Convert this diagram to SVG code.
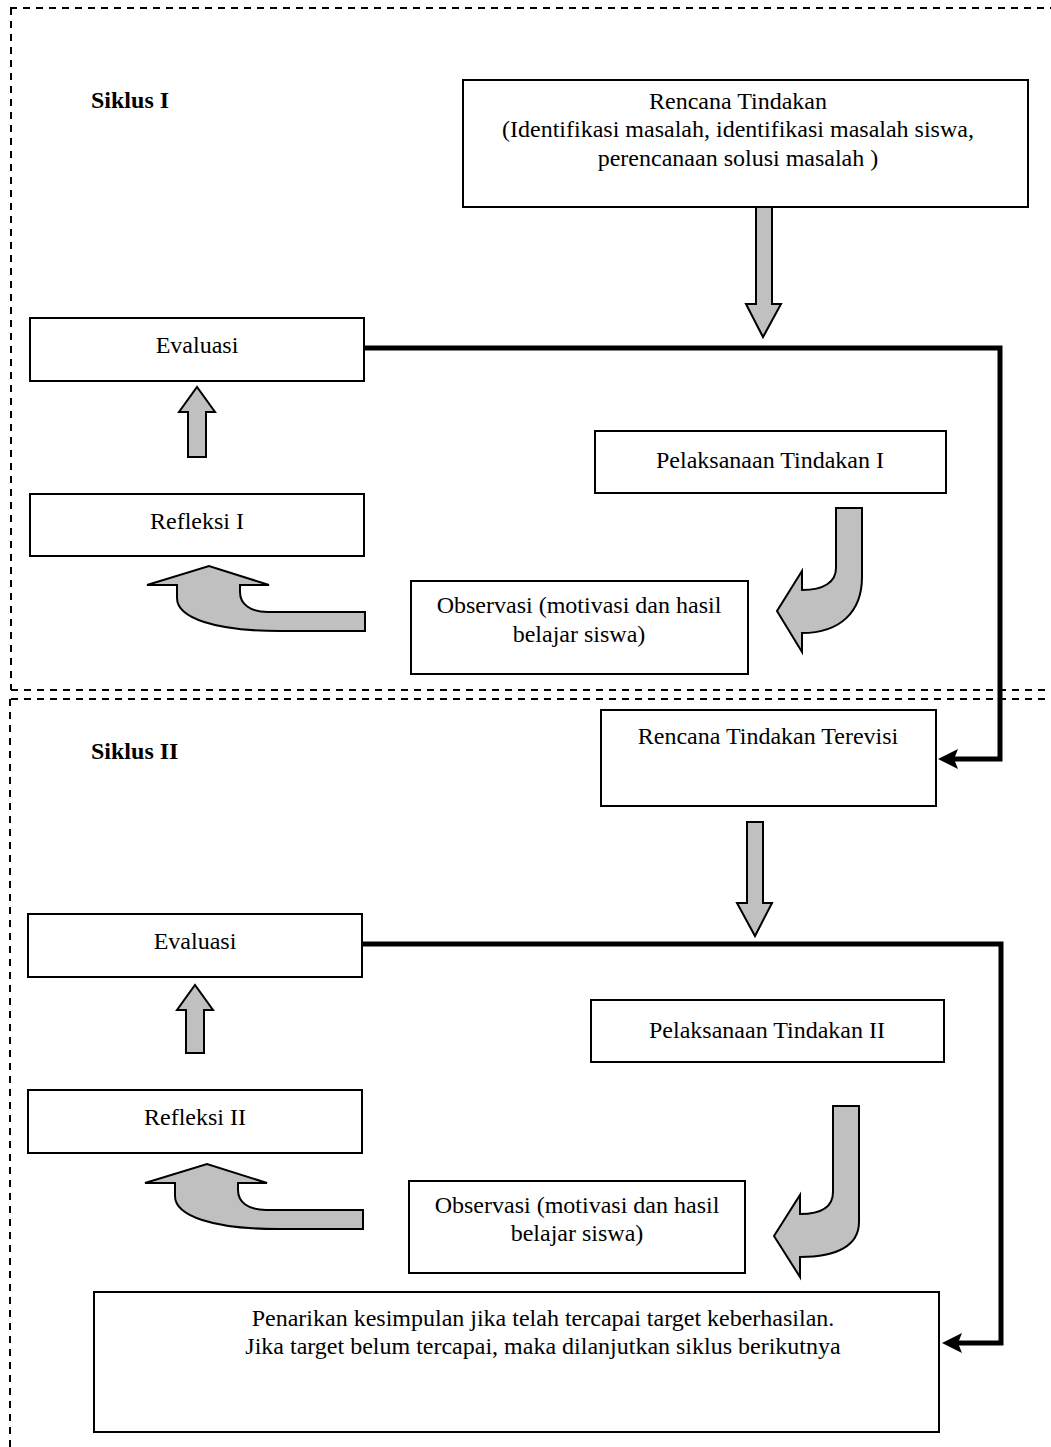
<svg xmlns="http://www.w3.org/2000/svg" width="1051" height="1447" viewBox="0 0 1051 1447">
<style>
.box{fill:#fff;stroke:#000;stroke-width:2}
.t{font-family:"Liberation Serif","Times New Roman",serif;font-size:24px;fill:#000;text-anchor:middle}
.h{font-family:"Liberation Serif","Times New Roman",serif;font-size:24px;font-weight:bold;fill:#000}
.ga{fill:#c0c0c0;stroke:#000;stroke-width:2;stroke-linejoin:miter}
.dash{fill:none;stroke:#000;stroke-width:2;stroke-dasharray:7 6}
.conn{fill:none;stroke:#000;stroke-width:5;stroke-linejoin:miter}
</style>
<rect width="1051" height="1447" fill="#fff"/>
<g id="frame">
<path class="dash" d="M10,8 H1051 M11,8 V690 M11,690 H1051 M11,699 H1051 M10,699 V1447"/>
</g>
<g id="labels">
<text class="h" x="91" y="108">Siklus I</text>
<text class="h" x="91" y="759">Siklus II</text>
</g>
<g id="rencana">
<rect class="box" x="463" y="80" width="565" height="127"/>
<text class="t" x="738" y="109">Rencana Tindakan</text>
<text class="t" x="738" y="137">(Identifikasi masalah, identifikasi masalah siswa,</text>
<text class="t" x="738" y="166">perencanaan solusi masalah )</text>
</g>
<g id="evaluasi1">
<rect class="box" x="30" y="318" width="334" height="63"/>
<text class="t" x="197" y="353">Evaluasi</text>
</g>
<g id="pelaksanaan1">
<rect class="box" x="595" y="431" width="351" height="62"/>
<text class="t" x="770" y="468">Pelaksanaan Tindakan I</text>
</g>
<g id="refleksi1">
<rect class="box" x="30" y="494" width="334" height="62"/>
<text class="t" x="197" y="529">Refleksi I</text>
</g>
<g id="observasi1">
<rect class="box" x="411" y="581" width="337" height="93"/>
<text class="t" x="579" y="613">Observasi (motivasi dan hasil</text>
<text class="t" x="579" y="642">belajar siswa)</text>
</g>
<g id="rencana2">
<rect class="box" x="601" y="710" width="335" height="96"/>
<text class="t" x="768" y="744">Rencana Tindakan Terevisi</text>
</g>
<g id="evaluasi2">
<rect class="box" x="28" y="914" width="334" height="63"/>
<text class="t" x="195" y="949">Evaluasi</text>
</g>
<g id="pelaksanaan2">
<rect class="box" x="591" y="1000" width="353" height="62"/>
<text class="t" x="767" y="1038">Pelaksanaan Tindakan II</text>
</g>
<g id="refleksi2">
<rect class="box" x="28" y="1090" width="334" height="63"/>
<text class="t" x="195" y="1125">Refleksi II</text>
</g>
<g id="observasi2">
<rect class="box" x="409" y="1181" width="336" height="92"/>
<text class="t" x="577" y="1213">Observasi (motivasi dan hasil</text>
<text class="t" x="577" y="1241">belajar siswa)</text>
</g>
<g id="penarikan">
<rect class="box" x="94" y="1292" width="845" height="140"/>
<text class="t" x="543" y="1326">Penarikan kesimpulan jika telah tercapai target keberhasilan.</text>
<text class="t" x="543" y="1354">Jika target belum tercapai, maka dilanjutkan siklus berikutnya</text>
</g>
<g id="connectors">
<path class="ga" d="M756,207 H772 V304 H781 L763,337 L746,304 H756 Z"/>
<path class="ga" d="M747,822 H763 V903 H772 L755,936 L737,903 H747 Z"/>
<path class="ga" d="M188,457 V412 H179 L197,387 L215,412 H206 V457 Z"/>
<path class="ga" d="M186,1053 V1010 H177 L195,985 L213,1010 H204 V1053 Z"/>
<path class="ga" d="M836,508 H862 V577 C862,612 840,633 802,633 V652 L777,611 L802,571 V590 C824,590 836,582 836,568 Z"/>
<path class="ga" d="M833,1106 H859 V1222 C859,1245 838,1257 800,1257 V1277 L774,1236 L800,1195 V1214 C822,1214 833,1206 833,1192 Z"/>
<path class="ga" d="M365,612 H268 C250,612 240,604 240,592 V585 H269 L209,566 L147,585 H177 V598 C177,618 215,631 280,631 H365 Z"/>
<path class="ga" d="M363,1210 H266 C248,1210 238,1202 238,1190 V1183 H267 L207,1164 L145,1183 H175 V1196 C175,1216 213,1229 278,1229 H363 Z"/>
<path class="conn" d="M364,348 H1000 V759 H954"/>
<polygon points="938,759 958,749 954,759 958,769" fill="#000"/>
<path class="conn" d="M362,944 H1001 V1343 H958"/>
<polygon points="942,1343 962,1333 958,1343 962,1353" fill="#000"/>
</g>
</svg>
